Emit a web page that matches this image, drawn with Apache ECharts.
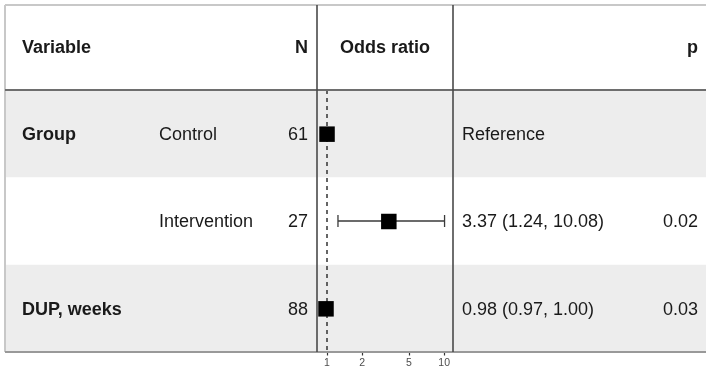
<!DOCTYPE html>
<html>
<head>
<meta charset="utf-8">
<script src="https://cdn.jsdelivr.net/npm/echarts@6/dist/echarts.min.js"></script>
<style>
html,body{margin:0;padding:0;background:#fff;}
#main{width:706px;height:369px;}
</style>
</head>
<body>
<div id="main"></div>
<script>
// ---- data ----
const headerLabels = ['Variable', 'N', 'Odds ratio', 'p'];
const variables = ['Group', '', 'DUP, weeks'];
const levels = ['Control', 'Intervention', ''];
const nValues = ['61', '27', '88'];
const estimates = [1, 3.37, 0.98];
const ciLow = [null, 1.24, 0.97];
const ciHigh = [null, 10.08, 1.00];
const estimateLabels = ['Reference', '3.37 (1.24, 10.08)', '0.98 (0.97, 1.00)'];
const pValues = ['', '0.02', '0.03'];
const tickValues = [1, 2, 5, 10];
const rowIds = ['r0', 'r1', 'r2'];

// ---- layout ----
const FONT = '"Liberation Sans", Arial, sans-serif';
const TOP = 90, BOTTOM = 352, PLOT_L = 317, PLOT_R = 453;
const TXT = '#1a1a1a';

const chart = echarts.init(document.getElementById('main'), null, {renderer: 'canvas'});

const tableData = rowIds.map((r, i) => [0, i]);
const markData = estimates.map((e, i) => [e, i, ciLow[i], ciHigh[i]]);

function renderRow(params, api) {
  const i = params.dataIndex;
  const c = api.coord([0, i]);
  const h = api.size([0, 1])[1];
  const y = c[1] + 1.5;
  const children = [];
  if (i % 2 === 0) {
    children.push({type: 'rect', shape: {x: 6, y: c[1] - h / 2, width: 700, height: h},
      style: {fill: '#ededed'}, z2: 0});
  }
  const t = (text, x, align, bold) => ({type: 'text', z2: 5,
    style: {text: text, x: x, y: y, align: align, verticalAlign: 'middle',
      font: (bold ? 'bold ' : '') + '18px ' + FONT, fill: TXT}});
  if (variables[i]) children.push(t(variables[i], 22, 'left', true));
  if (levels[i]) children.push(t(levels[i], 159, 'left', false));
  children.push(t(nValues[i], 308, 'right', false));
  children.push(t(estimateLabels[i], 462, 'left', false));
  if (pValues[i]) children.push(t(pValues[i], 698, 'right', false));
  return {type: 'group', children: children};
}

function renderMark(params, api) {
  const est = api.value(0), row = api.value(1);
  const lo = api.value(2), hi = api.value(3);
  const p = api.coord([est, row]);
  const children = [];
  if (lo != null && !isNaN(lo) && hi != null && !isNaN(hi)) {
    const a = api.coord([lo, row]), b = api.coord([hi, row]);
    const ls = {stroke: '#3a3a3a', lineWidth: 1.3};
    children.push({type: 'line', shape: {x1: a[0], y1: p[1], x2: b[0], y2: p[1]}, style: ls});
    children.push({type: 'line', shape: {x1: a[0], y1: p[1] - 6, x2: a[0], y2: p[1] + 6}, style: ls});
    children.push({type: 'line', shape: {x1: b[0], y1: p[1] - 6, x2: b[0], y2: p[1] + 6}, style: ls});
  }
  const s = 15.5;
  children.push({type: 'rect', shape: {x: p[0] - s / 2, y: p[1] - s / 2 + 0.5, width: s, height: s},
    style: {fill: '#000'}});
  return {type: 'group', children: children};
}

const lineG = (x1, y1, x2, y2, stroke, w) => ({type: 'line', silent: true, z: 50,
  shape: {x1, y1, x2, y2}, style: {stroke: stroke, lineWidth: w}});
const headTxt = (text, x, align) => ({type: 'text', z: 50,
  style: {text: text, x: x, y: 48, align: align, verticalAlign: 'middle',
    font: 'bold 18px ' + FONT, fill: TXT}});

const option = {
  animation: false,
  backgroundColor: '#fff',
  grid: [
    {left: 5, width: 701, top: TOP, height: BOTTOM - TOP},
    {left: PLOT_L, width: PLOT_R - PLOT_L, top: TOP, height: BOTTOM - TOP}
  ],
  xAxis: [
    {gridIndex: 0, type: 'value', min: 0, max: 1, show: false},
    {gridIndex: 1, type: 'log', logBase: 10, min: 0.821, max: 11.9,
      axisLine: {show: false}, splitLine: {show: false},
      axisTick: {show: true, customValues: tickValues, length: 3.5, inside: false,
        lineStyle: {color: '#333', width: 1.2}},
      axisLabel: {show: true, customValues: tickValues, fontSize: 10.5, color: '#4d4d4d',
        margin: 6, fontFamily: FONT, formatter: v => String(v)}}
  ],
  yAxis: [
    {gridIndex: 0, type: 'category', data: rowIds, inverse: true, show: false},
    {gridIndex: 1, type: 'category', data: rowIds, inverse: true, show: false}
  ],
  series: [
    {type: 'custom', xAxisIndex: 0, yAxisIndex: 0, data: tableData, renderItem: renderRow, z: 1, silent: true},
    {type: 'custom', xAxisIndex: 1, yAxisIndex: 1, data: [], renderItem: () => null, z: 3,
      markLine: {silent: true, symbol: 'none', label: {show: false},
        lineStyle: {color: '#333', type: [4, 4], width: 1.5},
        data: [{xAxis: 1}]}},
    {type: 'custom', xAxisIndex: 1, yAxisIndex: 1, data: markData, renderItem: renderMark, z: 5, silent: true}
  ],
  graphic: [
    lineG(5, 5, 706, 5, '#c8c8c8', 2),
    lineG(5, 5, 5, BOTTOM, '#c8c8c8', 2),
    lineG(5, TOP, 706, TOP, '#6e6e6e', 2),
    lineG(5, BOTTOM, 706, BOTTOM, '#999', 2),
    lineG(PLOT_L, 5, PLOT_L, BOTTOM, '#4a4a4a', 1.6),
    lineG(PLOT_R, 5, PLOT_R, BOTTOM, '#4a4a4a', 1.6),
    headTxt(headerLabels[0], 22, 'left'),
    headTxt(headerLabels[1], 308, 'right'),
    headTxt(headerLabels[2], 385, 'center'),
    headTxt(headerLabels[3], 698, 'right')
  ]
};
chart.setOption(option);
</script>
</body>
</html>
